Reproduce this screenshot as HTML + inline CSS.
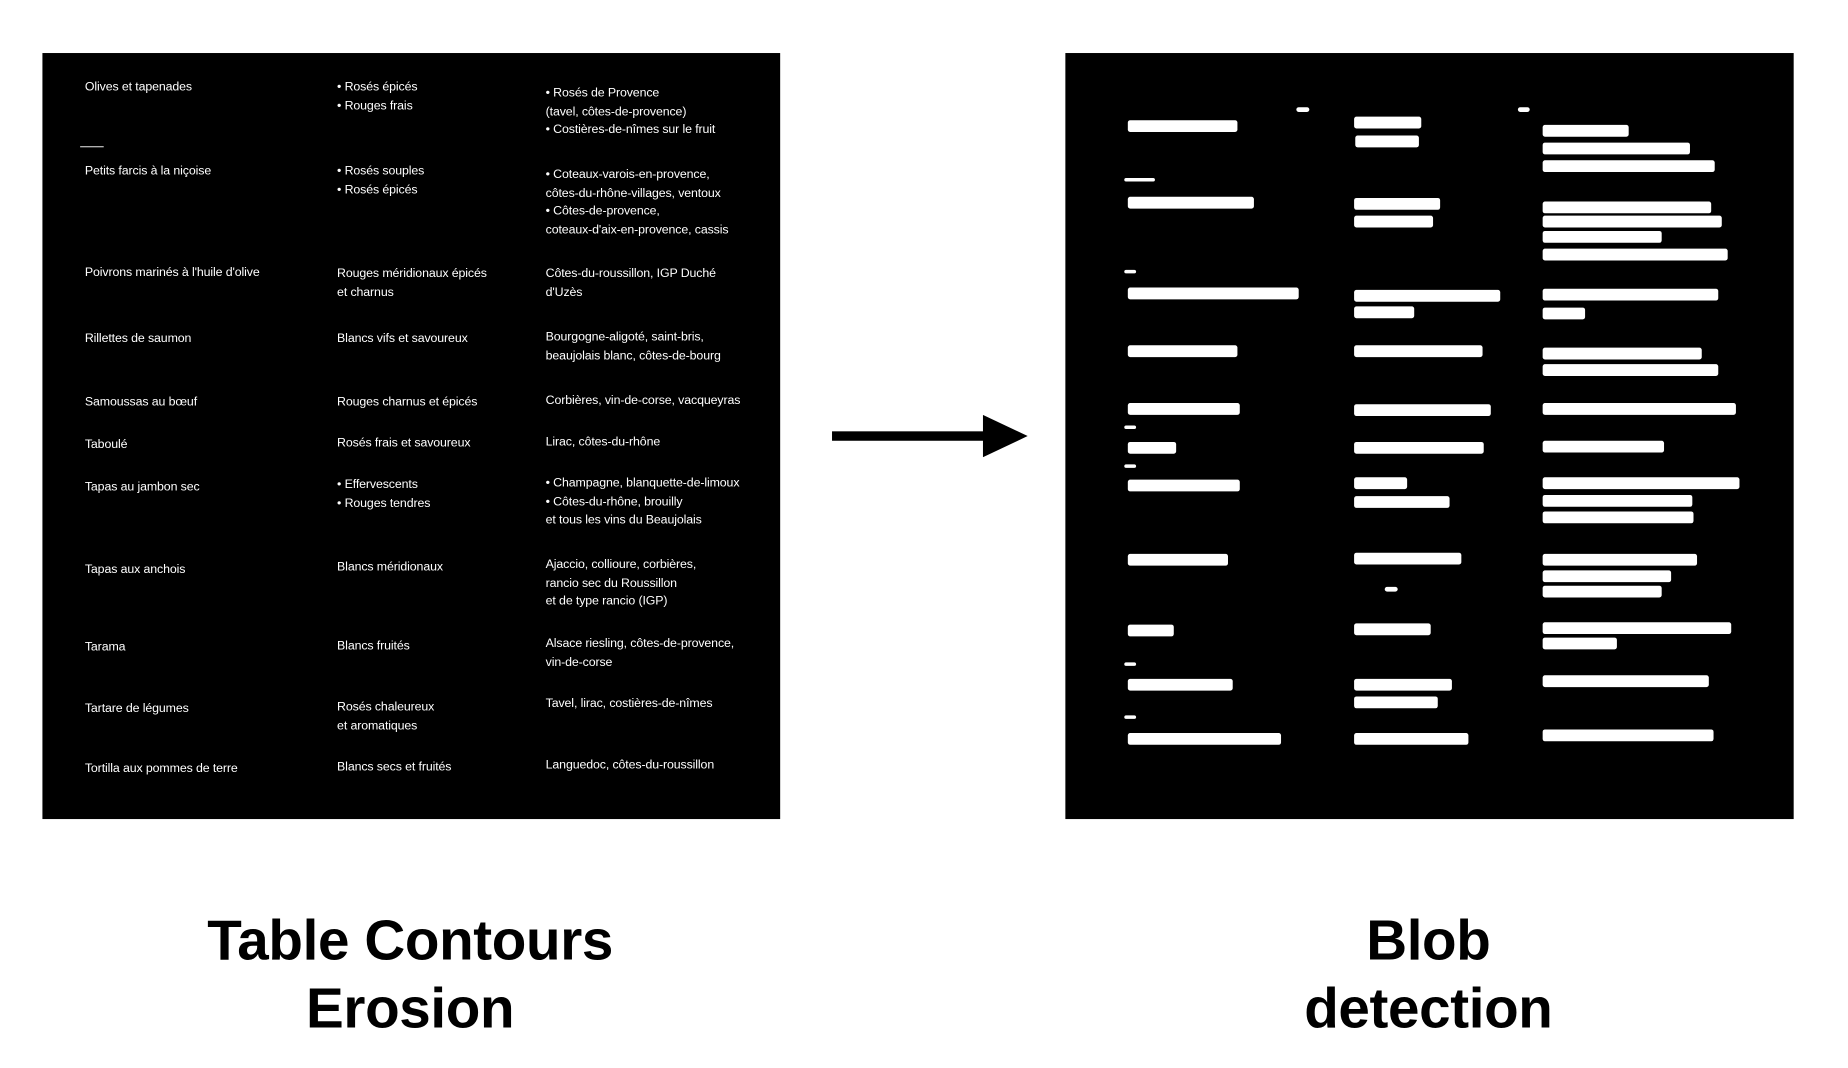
<!DOCTYPE html>
<html><head><meta charset="utf-8"><style>
html,body{margin:0;padding:0;background:#fff;width:1848px;height:1068px;overflow:hidden}
#s{position:absolute;left:0;top:0;width:1560px;height:902px;transform:scale(1.1785);transform-origin:0 0}
.p{position:absolute;background:#000}
.t{position:absolute;color:#fff;font-family:"Liberation Sans",sans-serif;font-size:10.5px;line-height:15.5px;white-space:nowrap;letter-spacing:-0.1px}
.b{position:absolute;background:#fff;height:10px;border-radius:2px}
.L{position:absolute;font-family:"Liberation Sans",sans-serif;font-weight:bold;font-size:48px;line-height:58px;text-align:center;color:#000;letter-spacing:-0.3px}
</style></head><body><div id="s">
<div class="p" style="left:36px;top:45px;width:626px;height:650px"></div>
<div class="p" style="left:904px;top:45px;width:618px;height:650px"></div>
<div style="position:absolute;left:68px;top:124px;width:20px;height:1px;background:#ccc"></div>

<div class="t" style="left:72px;top:67px">Olives et tapenades</div>
<div class="t" style="left:286px;top:67px">• Rosés épicés<br>• Rouges frais</div>
<div class="t" style="left:463px;top:72px">• Rosés de Provence<br>(tavel, côtes-de-provence)<br>• Costières-de-nîmes sur le fruit</div>

<div class="t" style="left:72px;top:138px">Petits farcis à la niçoise</div>
<div class="t" style="left:286px;top:138px">• Rosés souples<br>• Rosés épicés</div>
<div class="t" style="left:463px;top:141px">• Coteaux-varois-en-provence,<br>côtes-du-rhône-villages, ventoux<br>• Côtes-de-provence,<br>coteaux-d'aix-en-provence, cassis</div>

<div class="t" style="left:72px;top:224px">Poivrons marinés à l'huile d'olive</div>
<div class="t" style="left:286px;top:225px">Rouges méridionaux épicés<br>et charnus</div>
<div class="t" style="left:463px;top:225px">Côtes-du-roussillon, IGP Duché<br>d'Uzès</div>

<div class="t" style="left:72px;top:280px">Rillettes de saumon</div>
<div class="t" style="left:286px;top:280px">Blancs vifs et savoureux</div>
<div class="t" style="left:463px;top:279px">Bourgogne-aligoté, saint-bris,<br>beaujolais blanc, côtes-de-bourg</div>

<div class="t" style="left:72px;top:334px">Samoussas au bœuf</div>
<div class="t" style="left:286px;top:334px">Rouges charnus et épicés</div>
<div class="t" style="left:463px;top:333px">Corbières, vin-de-corse, vacqueyras</div>

<div class="t" style="left:72px;top:370px">Taboulé</div>
<div class="t" style="left:286px;top:369px">Rosés frais et savoureux</div>
<div class="t" style="left:463px;top:368px">Lirac, côtes-du-rhône</div>

<div class="t" style="left:72px;top:406px">Tapas au jambon sec</div>
<div class="t" style="left:286px;top:404px">• Effervescents<br>• Rouges tendres</div>
<div class="t" style="left:463px;top:403px">• Champagne, blanquette-de-limoux<br>• Côtes-du-rhône, brouilly<br>et tous les vins du Beaujolais</div>

<div class="t" style="left:72px;top:476px">Tapas aux anchois</div>
<div class="t" style="left:286px;top:474px">Blancs méridionaux</div>
<div class="t" style="left:463px;top:472px">Ajaccio, collioure, corbières,<br>rancio sec du Roussillon<br>et de type rancio (IGP)</div>

<div class="t" style="left:72px;top:542px">Tarama</div>
<div class="t" style="left:286px;top:541px">Blancs fruités</div>
<div class="t" style="left:463px;top:539px">Alsace riesling, côtes-de-provence,<br>vin-de-corse</div>

<div class="t" style="left:72px;top:594px">Tartare de légumes</div>
<div class="t" style="left:286px;top:593px">Rosés chaleureux<br>et aromatiques</div>
<div class="t" style="left:463px;top:590px">Tavel, lirac, costières-de-nîmes</div>

<div class="t" style="left:72px;top:645px">Tortilla aux pommes de terre</div>
<div class="t" style="left:286px;top:644px">Blancs secs et fruités</div>
<div class="t" style="left:463px;top:642px">Languedoc, côtes-du-roussillon</div>

<div style="position:absolute;left:706px;top:366px;width:134px;height:8px;background:#000"></div>
<svg style="position:absolute;left:834px;top:352px" width="40" height="36"><polygon points="0,0 38,18 0,36" fill="#000"/></svg>

<div class="L" style="left:98px;top:770px;width:500px">Table Contours<br>Erosion</div>
<div class="L" style="left:962px;top:770px;width:500px">Blob<br>detection</div>

<div id="blobs"></div>
<script>
var B=[[1100,1111,93,4],[1288,1298,93,4],[954,980,152,3],[954,964,230,3],
[957,1050,107],[1149,1206,104],[1150,1204,120],[1309,1382,111],[1309,1434,126],[1309,1455,141],
[957,1064,172],[1149,1222,173],[1149,1216,188],[1309,1452,176],[1309,1461,188],[1309,1410,201],[1309,1466,216],
[957,1102,249],[1149,1273,251],[1149,1200,265],[1309,1458,250],[1309,1345,266],
[957,1050,298],[1149,1258,298],[1309,1444,300],[1309,1458,314],
[957,1052,347],[1149,1265,348],[1309,1473,347],
[957,998,380],[954,964,362,3],[954,964,395,3],[1149,1259,380],[1309,1412,379],
[957,1052,412],[1149,1194,410],[1149,1230,426],[1309,1476,410],[1309,1436,425],[1309,1437,439],
[957,1042,475],[1149,1240,474],[1175,1186,500,4],[1309,1440,475],[1309,1418,489],[1309,1410,502],
[957,996,535],[1149,1214,534],[1309,1469,533],[1309,1372,546],
[957,1046,581],[954,964,563,3],[1149,1232,581],[1149,1220,596],[1309,1450,578],
[957,1087,627],[954,964,608,3],[1149,1246,627],[1309,1454,624]];
var h='';B.forEach(function(b){var H=b[3]||10;h+='<div class="b" style="left:'+b[0]+'px;top:'+(b[2]-H/2)+'px;width:'+(b[1]-b[0])+'px;height:'+H+'px"></div>';});
document.getElementById('blobs').innerHTML=h;
</script>
</div></body></html>
